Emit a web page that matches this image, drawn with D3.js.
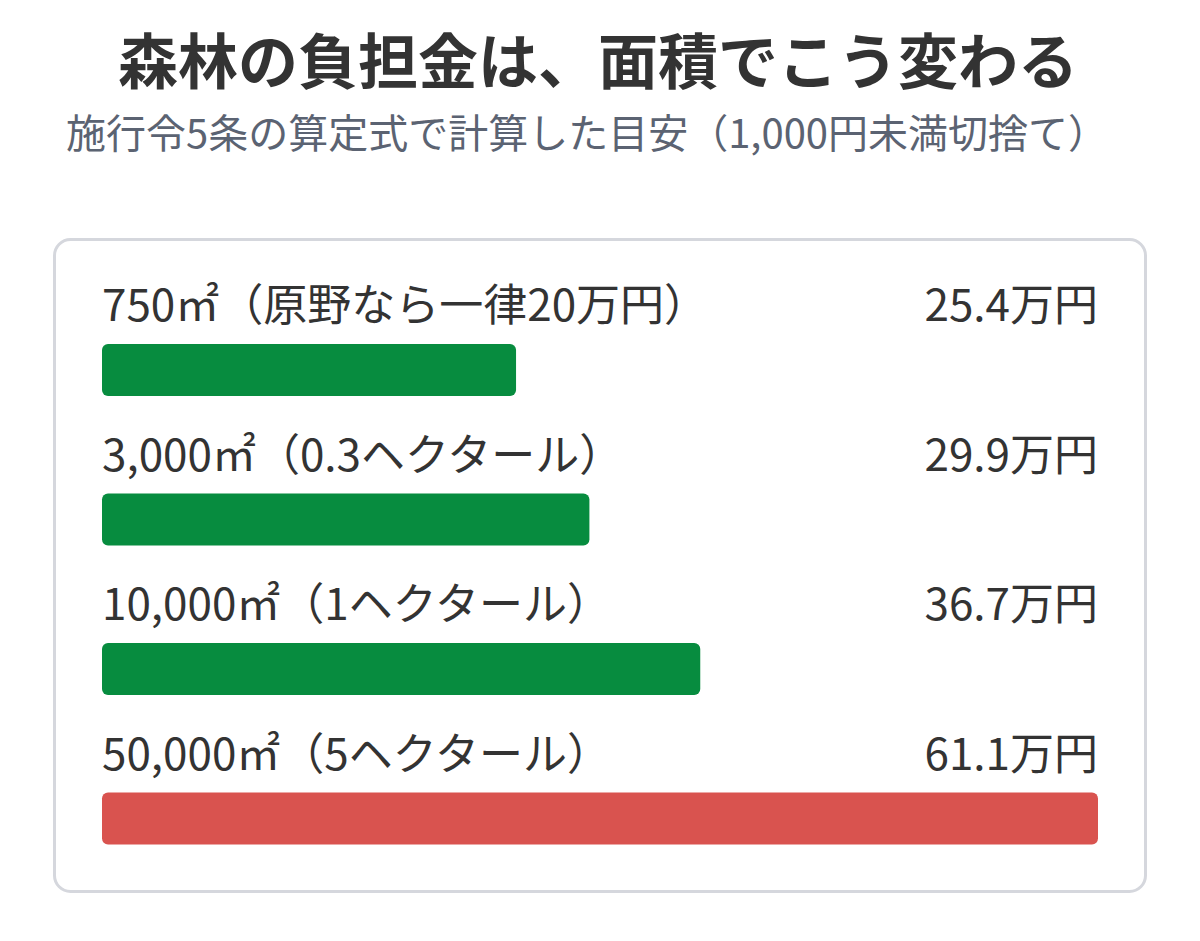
<!DOCTYPE html>
<html><head><meta charset="utf-8">
<script src="https://cdn.jsdelivr.net/npm/d3@7"></script>
<style>body{margin:0;background:#fff;font-family:"Noto Sans CJK JP","Noto Sans",sans-serif}</style>
</head><body><div id="vis"></div>
<script>
const labels = ["750㎡（原野なら一律20万円）", "3,000㎡（0.3ヘクタール）", "10,000㎡（1ヘクタール）", "50,000㎡（5ヘクタール）"];
const values = [25.4, 29.9, 36.7, 61.1];
const colors = ["#078c3f", "#078c3f", "#078c3f", "#d9534f"];

const svg = d3.select("#vis").append("svg")
    .attr("width", 1200).attr("height", 941);

svg.append("text").attr("x", 598).attr("y", 84).attr("text-anchor", "middle")
    .attr("font-size", 60).attr("font-weight", "bold").attr("fill", "#333")
    .text("森林の負担金は、面積でこう変わる");
svg.append("text").attr("x", 587).attr("y", 148).attr("text-anchor", "middle")
    .attr("font-size", 40).attr("fill", "#5b6372")
    .text("施行令5条の算定式で計算した目安（1,000円未満切捨て）");

svg.append("rect").attr("x", 54.5).attr("y", 239.5).attr("width", 1091).attr("height", 652)
    .attr("rx", 16).attr("fill", "#fff").attr("stroke", "#d5d7dd").attr("stroke-width", 3);

const x = d3.scaleLinear().domain([0, d3.max(values)]).range([0, 996]);
const y = d3.scaleBand().domain(d3.range(labels.length)).range([270, 868]);

const row = svg.append("g").selectAll("g").data(values).join("g")
    .attr("transform", (d, i) => `translate(102,${y(i)})`);

row.append("text").attr("y", 51).attr("font-size", 44).attr("fill", "#333")
    .text((d, i) => labels[i]);
row.append("text").attr("x", 996).attr("y", 51).attr("text-anchor", "end")
    .attr("font-size", 44).attr("fill", "#333")
    .text(d => d.toFixed(1) + "万円");
row.append("rect").attr("y", 74).attr("height", 52).attr("rx", 6)
    .attr("width", d => x(d)).attr("fill", (d, i) => colors[i]);
</script></body></html>
